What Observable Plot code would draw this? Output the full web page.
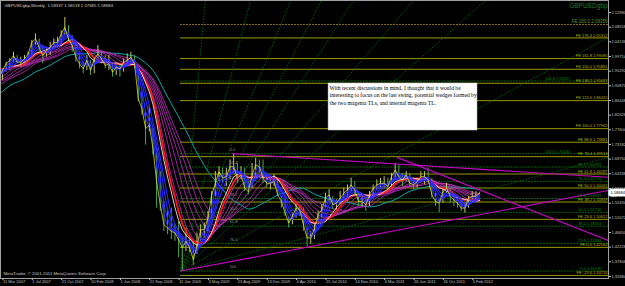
<!DOCTYPE html>
<html><head><meta charset="utf-8">
<script src="https://cdn.jsdelivr.net/npm/d3@7"></script>
<script src="https://cdn.jsdelivr.net/npm/@observablehq/plot@0.6"></script>
<style>html,body{margin:0;padding:0;background:#000;overflow:hidden}</style>
</head><body><div id="chart"></div>
<script>
// ---- price data: biweekly bars starting 2006-03-12 (earlier bars only feed the averages)
const firstBarDate = "2006-03-12";
const closes = [1.745,1.745,1.770,1.825,1.875,1.870,1.840,1.845,1.845,1.865,
1.900,1.885,1.880,1.875,1.870,1.865,1.905,1.910,1.965,1.965,
1.960,1.945,1.975,1.965,1.960,1.935,1.955,1.975,1.985,2.000,
1.980,1.980,1.990,2.005,2.040,2.050,2.025,2.000,2.015,2.025,
2.040,2.040,2.065,2.085,2.050,2.030,1.995,1.975,1.960,1.985,
1.955,1.990,2.005,1.990,1.970,1.975,1.950,1.965,1.960,1.980,
1.985,1.995,1.975,1.870,1.840,1.780,1.790,1.720,1.620,1.550,
1.490,1.480,1.470,1.465,1.445,1.420,1.440,1.420,1.385,1.425,
1.475,1.475,1.510,1.580,1.615,1.650,1.630,1.635,1.665,1.665,
1.630,1.640,1.600,1.590,1.640,1.670,1.665,1.630,1.615,1.615,
1.620,1.580,1.560,1.525,1.495,1.515,1.540,1.535,1.490,1.450,
1.450,1.480,1.520,1.535,1.570,1.580,1.550,1.555,1.570,1.585,
1.595,1.610,1.595,1.560,1.560,1.550,1.580,1.600,1.610,1.615,
1.615,1.605,1.635,1.655,1.635,1.625,1.640,1.615,1.610,1.620,
1.635,1.635,1.625,1.580,1.560,1.555,1.590,1.600,1.575,1.565,
1.555,1.540,1.540,1.570,1.575,1.575,1.58684];
const highs = [1.755,1.755,1.775,1.830,1.885,1.895,1.890,1.850,1.860,1.870,
1.905,1.905,1.910,1.885,1.890,1.880,1.910,1.915,1.970,1.990,
1.970,1.970,1.985,1.975,1.965,1.965,1.960,1.980,1.990,2.010,
2.000,1.995,2.000,2.010,2.045,2.065,2.050,2.030,2.025,2.040,
2.050,2.055,2.075,2.115,2.090,2.060,2.035,2.005,1.980,2.000,
1.985,1.995,2.030,2.010,2.000,2.000,1.975,1.975,1.975,1.990,
2.005,2.010,2.000,1.950,1.890,1.830,1.850,1.780,1.720,1.650,
1.560,1.540,1.540,1.490,1.500,1.450,1.480,1.455,1.440,1.465,
1.490,1.495,1.530,1.590,1.650,1.665,1.660,1.660,1.685,1.705,
1.675,1.665,1.660,1.620,1.675,1.690,1.685,1.685,1.640,1.630,
1.640,1.625,1.575,1.570,1.515,1.525,1.555,1.545,1.540,1.480,
1.470,1.490,1.530,1.550,1.585,1.595,1.575,1.565,1.590,1.600,
1.610,1.630,1.620,1.590,1.580,1.570,1.590,1.610,1.625,1.630,
1.635,1.630,1.645,1.675,1.670,1.645,1.650,1.645,1.620,1.630,
1.650,1.650,1.660,1.630,1.585,1.565,1.600,1.615,1.600,1.580,
1.570,1.565,1.555,1.575,1.590,1.590,1.58519];
const lows = [1.735,1.730,1.740,1.765,1.820,1.860,1.835,1.815,1.825,1.830,
1.860,1.875,1.865,1.860,1.860,1.850,1.860,1.890,1.900,1.955,
1.945,1.935,1.940,1.945,1.940,1.920,1.925,1.950,1.955,1.980,
1.975,1.965,1.970,1.980,2.000,2.030,2.010,1.975,1.995,2.000,
2.020,2.030,2.030,2.060,2.040,2.010,1.980,1.960,1.945,1.955,
1.940,1.945,1.990,1.975,1.960,1.955,1.935,1.940,1.935,1.950,
1.970,1.975,1.960,1.860,1.820,1.730,1.770,1.700,1.540,1.530,
1.470,1.460,1.445,1.440,1.390,1.350,1.410,1.405,1.366,1.400,
1.440,1.450,1.470,1.505,1.575,1.620,1.615,1.605,1.625,1.645,
1.615,1.625,1.590,1.580,1.600,1.630,1.645,1.615,1.600,1.595,
1.605,1.575,1.540,1.515,1.480,1.490,1.510,1.515,1.470,1.423,
1.430,1.445,1.490,1.510,1.540,1.560,1.535,1.535,1.550,1.565,
1.560,1.590,1.575,1.545,1.545,1.530,1.545,1.570,1.595,1.600,
1.600,1.595,1.600,1.625,1.625,1.605,1.620,1.605,1.595,1.600,
1.615,1.610,1.615,1.570,1.545,1.527,1.555,1.585,1.555,1.545,
1.540,1.530,1.525,1.540,1.565,1.565,1.57685];

// ---- axis ticks
const xTickDates = ["2007-03-11","2007-07-01","2007-10-21","2008-02-10","2008-06-01","2008-09-21","2009-01-11","2009-05-03","2009-08-23","2009-12-13","2010-04-04","2010-07-25","2010-11-14","2011-03-06","2011-06-26","2011-10-16","2012-02-05"];
const xTickLabels = ["11 Mar 2007","1 Jul 2007","21 Oct 2007","10 Feb 2008","1 Jun 2008","21 Sep 2008","11 Jan 2009","3 May 2009","23 Aug 2009","13 Dec 2009","4 Apr 2010","25 Jul 2010","14 Nov 2010","6 Mar 2011","26 Jun 2011","16 Oct 2011","5 Feb 2012"];
const yTicks = [2.12980,2.08558,2.04136,1.99714,1.95292,1.90870,1.86448,1.82026,1.77604,1.73182,1.68760,1.64338,1.59916,1.55494,1.51072,1.46650,1.42228,1.37806,1.33384];

// ---- fibonacci expansion (yellow) levels
const feLevels = ["176.4","161.8","150.0","138.2","123.6","100.0","88.6","76.4","61.8","50.0","38.2","23.6","0.0","-23.6"];
const fePrices = [2.05312,1.99085,1.95861,1.91637,1.86410,1.77962,1.73881,1.69514,1.64287,1.60063,1.55839,1.50612,1.42164,1.33716];
// extra dotted level near the top
const topLevelLabel = "FE 200.0";
const topLevelPrice = 2.09356;
// ---- fibonacci levels of the last swing (green)
const fibLevels = ["0.0","23.6","38.2","50.0","61.8","76.4","88.6","100.0","161.8"];
const fibPrices = [1.35030,1.43384,1.48553,1.52730,1.56907,1.62076,1.66395,1.70430,1.92307];
const retLabels = ["100","76.4","61.8","50.0","38.2","23.6","11.4","0.0"];
const retPrices = [1.35030,1.43384,1.48553,1.52730,1.56907,1.62076,1.66395,1.70430];
const swingLowDate = "2009-01-18", swingLowPrice = 1.3503;
const swingHighDate = "2009-08-05", swingHighPrice = 1.7043;
// ---- fan lines from the swing low (end points)
const fanEndDates = ["2009-04-23","2009-10-12","2010-03-14","2010-07-10","2010-11-09","2011-06-26","2012-03-27","2013-07-08","2013-07-08"];
const fanEndPrices = [2.166,2.166,2.166,2.166,2.166,2.166,2.166,2.0544,1.6926];
// ---- magenta trend lines
const tlNames = ["upper","lower","internal"];
const tlStartDates = ["2009-08-05","2009-01-18","2011-04-24"];
const tlStartPrices = [1.7043,1.3503,1.6930];
const tlEndDates = ["2013-07-08","2013-07-08","2013-07-08"];
const tlEndPrices = [1.6330,1.5931,1.4424];
// ---- note
const noteLines = ["With recent discussions in mind, I thought that it would be","interesting to focus on the last swing, potential wedges formed by","the two magenta TLs, and internal magenta TL."];
const noteBox = {x1:"2010-08-06", x2:"2012-02-25", y1:1.9157, y2:1.7740};
const title = "GBPUSDgbp,Weekly  1.58337 1.58519 1.57685 1.58684";
const symbolName = "GBPUSDgbp";
const copyright = "MetaTrader, © 2001-2011 MetaQuotes Software Corp.";
const lastPrice = 1.58684;

// ---- build tables
const P = d3.utcParse("%Y-%m-%d");
const first = P(firstBarDate);
const bars = closes.map((c,i)=>({date:d3.utcDay.offset(first,14*i), close:c, high:highs[i], low:lows[i], up: i===0 || c>=closes[i-1]}));
const xStart = new Date(Date.UTC(2007,2,3,12)), xEnd = new Date(Date.UTC(2013,6,8,19));
const lowD = P(swingLowDate), highD = P(swingHighDate);
const feTable = feLevels.map((l,i)=>({label:`FE ${l} ${fePrices[i].toFixed(5)}`, price:fePrices[i]}));
const fibTable = fibLevels.map((l,i)=>({label:`${l} ${fibPrices[i].toFixed(5)}`, price:fibPrices[i], crowded: l==="161.8" || l==="100.0"}));
const retTable = retLabels.map((l,i)=>({label:l, price:retPrices[i]}));
const fanTable = fanEndDates.map((d,i)=>({x2:P(d), y2:fanEndPrices[i]}));
const tlTable = tlNames.map((n,i)=>({x1:P(tlStartDates[i]), y1:tlStartPrices[i], x2:P(tlEndDates[i]), y2:tlEndPrices[i]}));
const tickMap = new Map(xTickDates.map((d,i)=>[+P(d), xTickLabels[i]]));
const note = [{x1:P(noteBox.x1), x2:P(noteBox.x2), y1:noteBox.y1, y2:noteBox.y2, text:noteLines.join("\n")}];

const ma = (k, stroke, strokeWidth=0.9, extra={}) => Plot.lineY(bars, Plot.windowY({k, anchor:"end"}, {x:"date", y:"close", stroke, strokeWidth, clip:true, ...extra}));

const chart = Plot.plot({
  width:625, height:286,
  marginTop:0, marginBottom:8, marginLeft:0, marginRight:17,
  style:{background:"#000", color:"#c0c0c0", fontFamily:"'Liberation Sans', Arial, sans-serif", fontSize:"4px"},
  x:{type:"utc", domain:[xStart,xEnd]},
  y:{domain:[1.32781,2.16598]},
  marks:[
    // green fib lines
    Plot.ruleY(fibTable, {y:"price", x1:()=>lowD, x2:()=>xEnd, stroke:"#007000", strokeWidth:0.9, strokeDasharray:"2,1", clip:true}),
    // yellow FE lines
    Plot.ruleY(feTable, {y:"price", x1:()=>lowD, x2:()=>xEnd, stroke:"#9a9a00", strokeWidth:1, clip:true}),
    Plot.ruleY([topLevelPrice], {y:d=>d, x1:()=>lowD, x2:()=>xEnd, stroke:"#8a6a20", strokeWidth:1.2, strokeDasharray:"2,1", clip:true}),
    // fan
    Plot.link(fanTable, {x1:()=>lowD, y1:()=>swingLowPrice, x2:"x2", y2:"y2", stroke:"#007800", strokeWidth:0.8, strokeDasharray:"1.5,1.5", clip:true}),
    // slow ribbon
    ma(26, "#00a8a8", 1),
    ...[9,11,13,15,17,19].map(k=>ma(k, "#c030c0", 0.8, {strokeDasharray:"2,0.6"})),
    // bars
    Plot.ruleX(bars.filter(d=>d.up), {x:"date", y1:"low", y2:"high", stroke:"#c8c860", strokeWidth:1, clip:true}),
    Plot.ruleX(bars.filter(d=>!d.up), {x:"date", y1:"low", y2:"high", stroke:"#50a850", strokeWidth:1, clip:true}),
    // medium and fast ribbon
    ma(8, "#ff1818", 1.8),
    ma(7, "#e8e8e8", 0.9),
    ...[2,3,4,5].map(k=>ma(k, "#2a2aff", 1.1)),
    ma(1, "#f0f020", 0.7),
    // trend lines
    Plot.link(tlTable, {x1:"x1", y1:"y1", x2:"x2", y2:"y2", stroke:"#c800c8", strokeWidth:1.1, clip:true}),
    // labels of levels
    Plot.text(feTable, {frameAnchor:"right", y:"price", text:"label", textAnchor:"end", dx:-1, dy:-2.6, fill:"#b0b000", fontSize:4}),
    Plot.text([topLevelPrice], {frameAnchor:"right", y:d=>d, text:d=>`${topLevelLabel} ${d.toFixed(5)}`, textAnchor:"end", dx:-1, dy:-3, fill:"#5a9a30", fontSize:4.5}),
    Plot.text(fibTable.filter(d=>!d.crowded), {frameAnchor:"right", y:"price", text:"label", textAnchor:"end", dx:-7, dy:-2.6, fill:"#008a00", fontSize:4}),
    Plot.text(fibTable.filter(d=>d.crowded), {frameAnchor:"right", y:"price", text:"label", textAnchor:"end", dx:-38, dy:-2.2, fill:"#008a00", fontSize:4}),
    Plot.text(retTable, {x:()=>highD, y:"price", text:"label", textAnchor:"start", dx:-3, dy:-4, fill:"#8c8c8c", fontSize:4}),
    // note box
    Plot.rect(note, {x1:"x1", x2:"x2", y1:"y1", y2:"y2", fill:"#fff", stroke:"#ccc", strokeWidth:0.5}),
    Plot.text(note, {x:"x1", y:"y1", text:"text", textAnchor:"start", lineAnchor:"top", dx:1, dy:1.5, fill:"#000", fontFamily:"'Liberation Serif', 'Times New Roman', serif", fontSize:5.6, lineHeight:1.3}),
    // texts
    Plot.text([title], {frameAnchor:"top-left", text:d=>d, dx:4, dy:3, fill:"#d0d0d0", fontSize:4.3, textAnchor:"start"}),
    Plot.text([symbolName], {frameAnchor:"top-right", text:d=>d, dx:-1, dy:3, fill:"#207a20", fontSize:6.5, textAnchor:"end"}),
    Plot.text([copyright], {frameAnchor:"bottom-left", text:d=>d, dx:3, dy:-4, fill:"#c8c8c8", fontSize:4.3, textAnchor:"start"}),
    // axes
    Plot.frame({stroke:"#a0a0a0", strokeWidth:1}),
    Plot.axisY({anchor:"right", ticks:yTicks, tickFormat:d=>d.toFixed(5), tickSize:2, tickPadding:1, color:"#c0c0c0", fontSize:4}),
    Plot.axisX({anchor:"bottom", ticks:xTickDates.map(P), tickFormat:d=>tickMap.get(+d), tickSize:2, tickPadding:0, textAnchor:"start", dx:0.5, color:"#c0c0c0", fontSize:4}),
    Plot.text([lastPrice], {frameAnchor:"right", y:d=>d, text:d=>d.toFixed(5), textAnchor:"start", dx:2, fill:"#000", stroke:"#fff", strokeWidth:5, fontSize:4})
  ]
});
document.getElementById("chart").append(chart);
</script></body></html>
